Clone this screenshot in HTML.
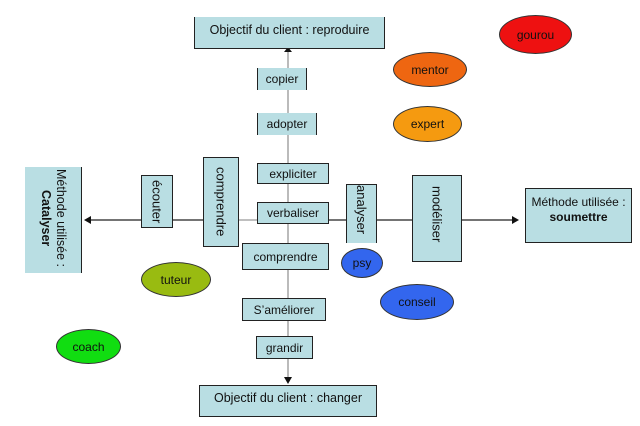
<!DOCTYPE html>
<html><head><meta charset="utf-8"><style>
html,body{margin:0;padding:0;background:#fff;}
body{width:640px;height:426px;position:relative;overflow:hidden;font-family:"Liberation Sans",sans-serif;font-size:12px;color:#111;}
.b{position:absolute;background:#b9dee3;border:1px solid #222;box-sizing:border-box;display:flex;align-items:center;justify-content:center;white-space:nowrap;}
.lr{border-top:none;border-bottom:none;}
.v{writing-mode:vertical-rl;font-size:13px;}
.e{position:absolute;border-radius:50%;border:1px solid #333;box-sizing:border-box;display:flex;align-items:center;justify-content:center;font-size:12px;}
svg{position:absolute;left:0;top:0;}
</style></head><body>
<svg width="640" height="426">
<line x1="288" y1="49" x2="288" y2="380" stroke="#bbb" stroke-width="2"/>
<polygon points="284,52 292,52 288,47" fill="#111"/>
<polygon points="284,377 292,377 288,384" fill="#111"/>
<line x1="90" y1="220" x2="203" y2="220" stroke="#222" stroke-width="1.2"/>
<line x1="239" y1="220" x2="257" y2="220" stroke="#999" stroke-width="1.2"/>
<line x1="329" y1="220" x2="412" y2="220" stroke="#222" stroke-width="1.2"/>
<line x1="462" y1="220" x2="515" y2="220" stroke="#222" stroke-width="1.2"/>
<polygon points="84,220 91,216 91,224" fill="#111"/>
<polygon points="519,220 512,216 512,224" fill="#111"/>
</svg>
<div class="b" style="left:194px;top:17px;width:191px;height:32px;border-top:none;align-items:flex-start;padding-top:6px;font-size:12.5px">Objectif du client : reproduire</div>
<div class="b lr" style="left:257px;top:68px;width:50px;height:22px">copier</div>
<div class="b lr" style="left:257px;top:113px;width:60px;height:22px">adopter</div>
<div class="b" style="left:257px;top:163px;width:72px;height:21px">expliciter</div>
<div class="b" style="left:257px;top:202px;width:72px;height:22px">verbaliser</div>
<div class="b" style="left:242px;top:243px;width:87px;height:27px">comprendre</div>
<div class="b" style="left:242px;top:298px;width:84px;height:23px">S’améliorer</div>
<div class="b" style="left:256px;top:336px;width:57px;height:23px">grandir</div>
<div class="b" style="left:199px;top:385px;width:178px;height:32px;align-items:flex-start;padding-top:5px;font-size:12.5px">Objectif du client : changer</div>
<div class="b" style="left:25px;top:167px;width:57px;height:106px;border-left:none;border-top:none;border-bottom:none;align-items:flex-start;justify-content:center"><div style="writing-mode:vertical-rl;font-size:12.5px;line-height:15px;text-align:center;padding-top:2px">Méthode utilisée :<br><b>Catalyser</b></div></div>
<div class="b v" style="left:141px;top:175px;width:32px;height:53px">écouter</div>
<div class="b v" style="left:203px;top:157px;width:36px;height:90px">comprendre</div>
<div class="b v" style="left:346px;top:184px;width:31px;height:59px;border-bottom:none;justify-content:flex-start">analyser</div>
<div class="b v" style="left:412px;top:175px;width:50px;height:87px;justify-content:flex-start;padding-top:10px">modéliser</div>
<div class="b" style="left:525px;top:188px;width:107px;height:55px;flex-direction:column;justify-content:flex-start;padding-top:6px;line-height:15px">Méthode utilisée :<br><b>soumettre</b></div>
<div class="e" style="left:499px;top:15px;width:73px;height:39px;background:#ee1111">gourou</div>
<div class="e" style="left:393px;top:52px;width:74px;height:35px;background:#ee6611">mentor</div>
<div class="e" style="left:393px;top:106px;width:69px;height:36px;background:#f59a10">expert</div>
<div class="e" style="left:341px;top:248px;width:42px;height:30px;background:#3366ee">psy</div>
<div class="e" style="left:380px;top:284px;width:74px;height:36px;background:#3366ee">conseil</div>
<div class="e" style="left:141px;top:262px;width:70px;height:35px;background:#99bb11">tuteur</div>
<div class="e" style="left:56px;top:329px;width:65px;height:35px;background:#11dd11">coach</div>
</body></html>
